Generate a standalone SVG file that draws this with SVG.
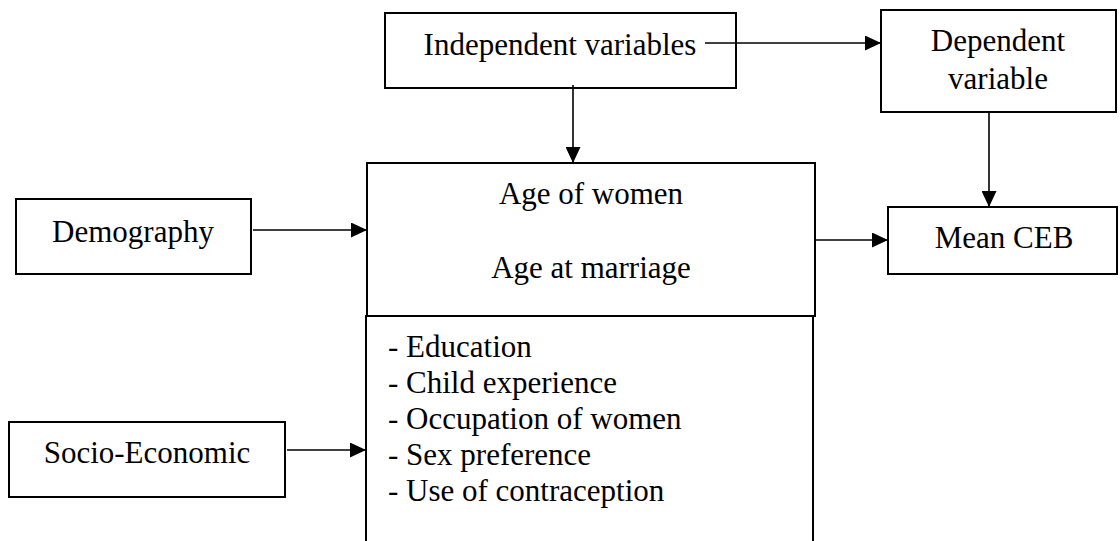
<svg xmlns="http://www.w3.org/2000/svg" width="1120" height="541" viewBox="0 0 1120 541">
  <style>
    .box { fill: #ffffff; stroke: #000000; stroke-width: 2; }
    .lbl { font-family: "Liberation Serif", "Times New Roman", serif; font-size: 31px; fill: #000000; }
    .mid { text-anchor: middle; }
    .conn { stroke: #000000; stroke-width: 1.6; fill: none; marker-end: url(#arr); }
  </style>
  <defs>
    <marker id="arr" markerUnits="userSpaceOnUse" markerWidth="16" markerHeight="15" refX="16" refY="7.5" orient="auto">
      <path d="M0,0 L16,7.5 L0,15 z" fill="#000000"/>
    </marker>
  </defs>
  <rect x="0" y="0" width="1120" height="541" fill="#ffffff"/>

  <g id="independent">
    <rect class="box" x="385" y="13" width="351" height="75"/>
    <text class="lbl mid" x="560" y="55">Independent variables</text>
  </g>

  <g id="dependent">
    <rect class="box" x="881" y="10" width="235" height="102"/>
    <text class="lbl mid" x="998" y="51">Dependent</text>
    <text class="lbl mid" x="998" y="89">variable</text>
  </g>

  <g id="demography">
    <rect class="box" x="16" y="199" width="235" height="75"/>
    <text class="lbl mid" x="133" y="242">Demography</text>
  </g>

  <g id="socio-economic">
    <rect class="box" x="9" y="422" width="276" height="75"/>
    <text class="lbl mid" x="147" y="463">Socio-Economic</text>
  </g>

  <g id="demographic-factors">
    <rect class="box" x="367" y="163" width="448" height="153"/>
    <text class="lbl mid" x="591" y="204">Age of women</text>
    <text class="lbl mid" x="591" y="278">Age at marriage</text>
  </g>

  <g id="socio-economic-factors">
    <rect class="box" x="366" y="316" width="447" height="240"/>
    <text class="lbl" x="388" y="357">- Education</text>
    <text class="lbl" x="388" y="393">- Child experience</text>
    <text class="lbl" x="388" y="429">- Occupation of women</text>
    <text class="lbl" x="388" y="465">- Sex preference</text>
    <text class="lbl" x="388" y="501">- Use of contraception</text>
  </g>

  <g id="mean-ceb">
    <rect class="box" x="888" y="207" width="229" height="67"/>
    <text class="lbl mid" x="1004" y="248">Mean CEB</text>
  </g>

  <g id="connectors">
    <line class="conn" x1="705" y1="43" x2="881" y2="43"/>
    <line class="conn" x1="573" y1="85" x2="573" y2="163"/>
    <line class="conn" x1="989" y1="112" x2="989" y2="207"/>
    <line class="conn" x1="253" y1="230" x2="367" y2="230"/>
    <line class="conn" x1="287" y1="450" x2="366" y2="450"/>
    <line class="conn" x1="814" y1="240" x2="888" y2="240"/>
  </g>
</svg>
